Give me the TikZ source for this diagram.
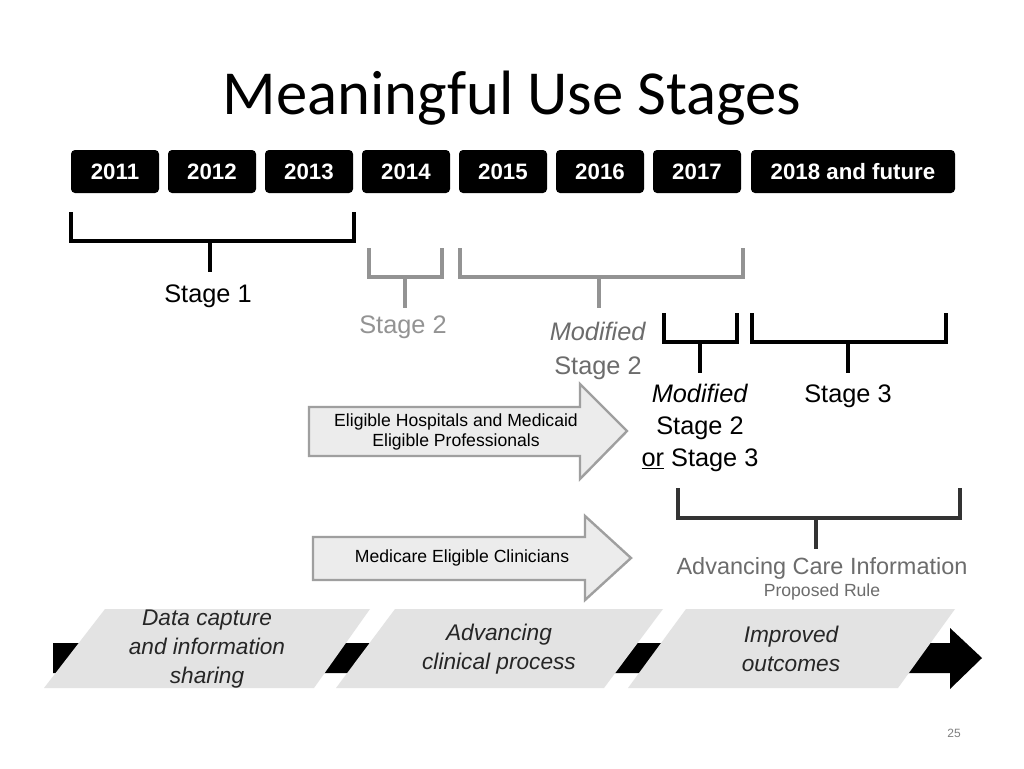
\documentclass[tikz,border=0pt]{standalone}
\usepackage{fontspec}
\setmainfont{Liberation Sans}
\newfontfamily\titlefont{Carlito}
\usetikzlibrary{arrows,positioning}

\tikzset{
  yearbox/.style={fill=black,rounded corners=3pt},
  yearlbl/.style={text=white,font=\bfseries\fontsize{16.7}{20}\selectfont},
  brack/.style={line width=2.6pt},
  graybrack/.style={line width=2.6pt,draw=gray!85},
  stagelbl/.style={font=\fontsize{19}{23}\selectfont,align=center},
  blockarrow/.style={fill=gray!15,draw=gray!75,line width=1.8pt},
  phase/.style={fill=gray!22,draw=none},
  phaselbl/.style={font=\itshape\fontsize{17}{21.5}\selectfont,align=center,text=black!85}
}

\begin{document}
\begin{tikzpicture}[x=0.75pt,y=-0.75pt]
\useasboundingbox (0,0) rectangle (1024,768);
\fill[white] (0,0) rectangle (1024,768);

\node (title) at (512,98) {\titlefont\fontsize{47}{52}\selectfont Meaningful Use Stages};

% years
\foreach \yr/\xa/\xb in {2011/71/159,2012/168/256,2013/265/353,2014/362/450,2015/459/547,2016/556/644,2017/653/741}{
  \fill[yearbox] (\xa,150) rectangle (\xb,193);
  \node[yearlbl] (y\yr) at ({(\xa+\xb)/2},171.5) {\yr};
}
\fill[yearbox] (751,150) rectangle (955,193);
\node[yearlbl] (y2018) at (853,171.5) {2018 and future};

% brackets
\draw[brack] (71,212)--(71,241)--(354,241)--(354,212);
\draw[brack] (210,241)--(210,272);
\node[stagelbl] (s1) at (208,296) {Stage 1};

\draw[graybrack] (369,248)--(369,277)--(442,277)--(442,248);
\draw[graybrack] (405,277)--(405,308);
\node[stagelbl,text=gray!85] (s2) at (403,327) {Stage 2};

\draw[graybrack] (460,248)--(460,277)--(743,277)--(743,248);
\draw[graybrack] (599,277)--(599,308);
\node[stagelbl,text=gray!85!black] (ms2) at (598,351) {\textit{Modified}\\[2pt]Stage 2};

\draw[brack] (664,313)--(664,342)--(737,342)--(737,313);
\draw[brack] (700,342)--(700,373);
\node[stagelbl] (ms2or3) at (700,428) {\textit{Modified}\\[1pt]Stage 2\\[1pt]\underline{or} Stage 3};

\draw[brack] (752,313)--(752,342)--(946,342)--(946,313);
\draw[brack] (848,342)--(848,373);
\node[stagelbl] (s3) at (848,396) {Stage 3};

\draw[brack,draw=black!80] (678,488)--(678,518)--(960,518)--(960,488);
\draw[brack,draw=black!80] (816,518)--(816,549);
\node[font=\fontsize{17.6}{21}\selectfont,text=gray!85!black] (aci) at (822,568) {Advancing Care Information};
\node[font=\fontsize{13.2}{15}\selectfont,text=gray!85!black] (rule) at (822,592) {Proposed Rule};

% block arrows
\draw[blockarrow] (309,407)--(580,407)--(580,384)--(627,431)--(580,479)--(580,456)--(309,456)--cycle;
\node[font=\fontsize{13.2}{15.5}\selectfont,align=center] (hosp) at (456,432) {Eligible Hospitals and Medicaid\\Eligible Professionals};
\draw[blockarrow] (313,537)--(585,537)--(585,516)--(631,558)--(585,600)--(585,580)--(313,580)--cycle;
\node[font=\fontsize{13.2}{15.5}\selectfont] (clin) at (462,558) {Medicare Eligible Clinicians};

% bottom band
\fill[black] (53,643)--(950,643)--(950,628)--(982,658)--(950,689)--(950,673)--(53,673)--cycle;
\fill[phase] (44,688)--(105,609)--(370,609)--(314,688)--cycle;
\fill[phase] (336,688)--(395,609)--(663,609)--(604,688)--cycle;
\fill[phase] (628,688)--(686,609)--(955,609)--(898,688)--cycle;
\node[phaselbl] (p1) at (207,649) {Data capture\\and information\\sharing};
\node[phaselbl] (p2) at (499,649) {Advancing\\clinical process};
\node[phaselbl] (p3) at (791,649) {Improved\\outcomes};

\node[font=\fontsize{9}{11}\selectfont,text=gray] (page) at (954,733) {25};
\end{tikzpicture}
\end{document}
